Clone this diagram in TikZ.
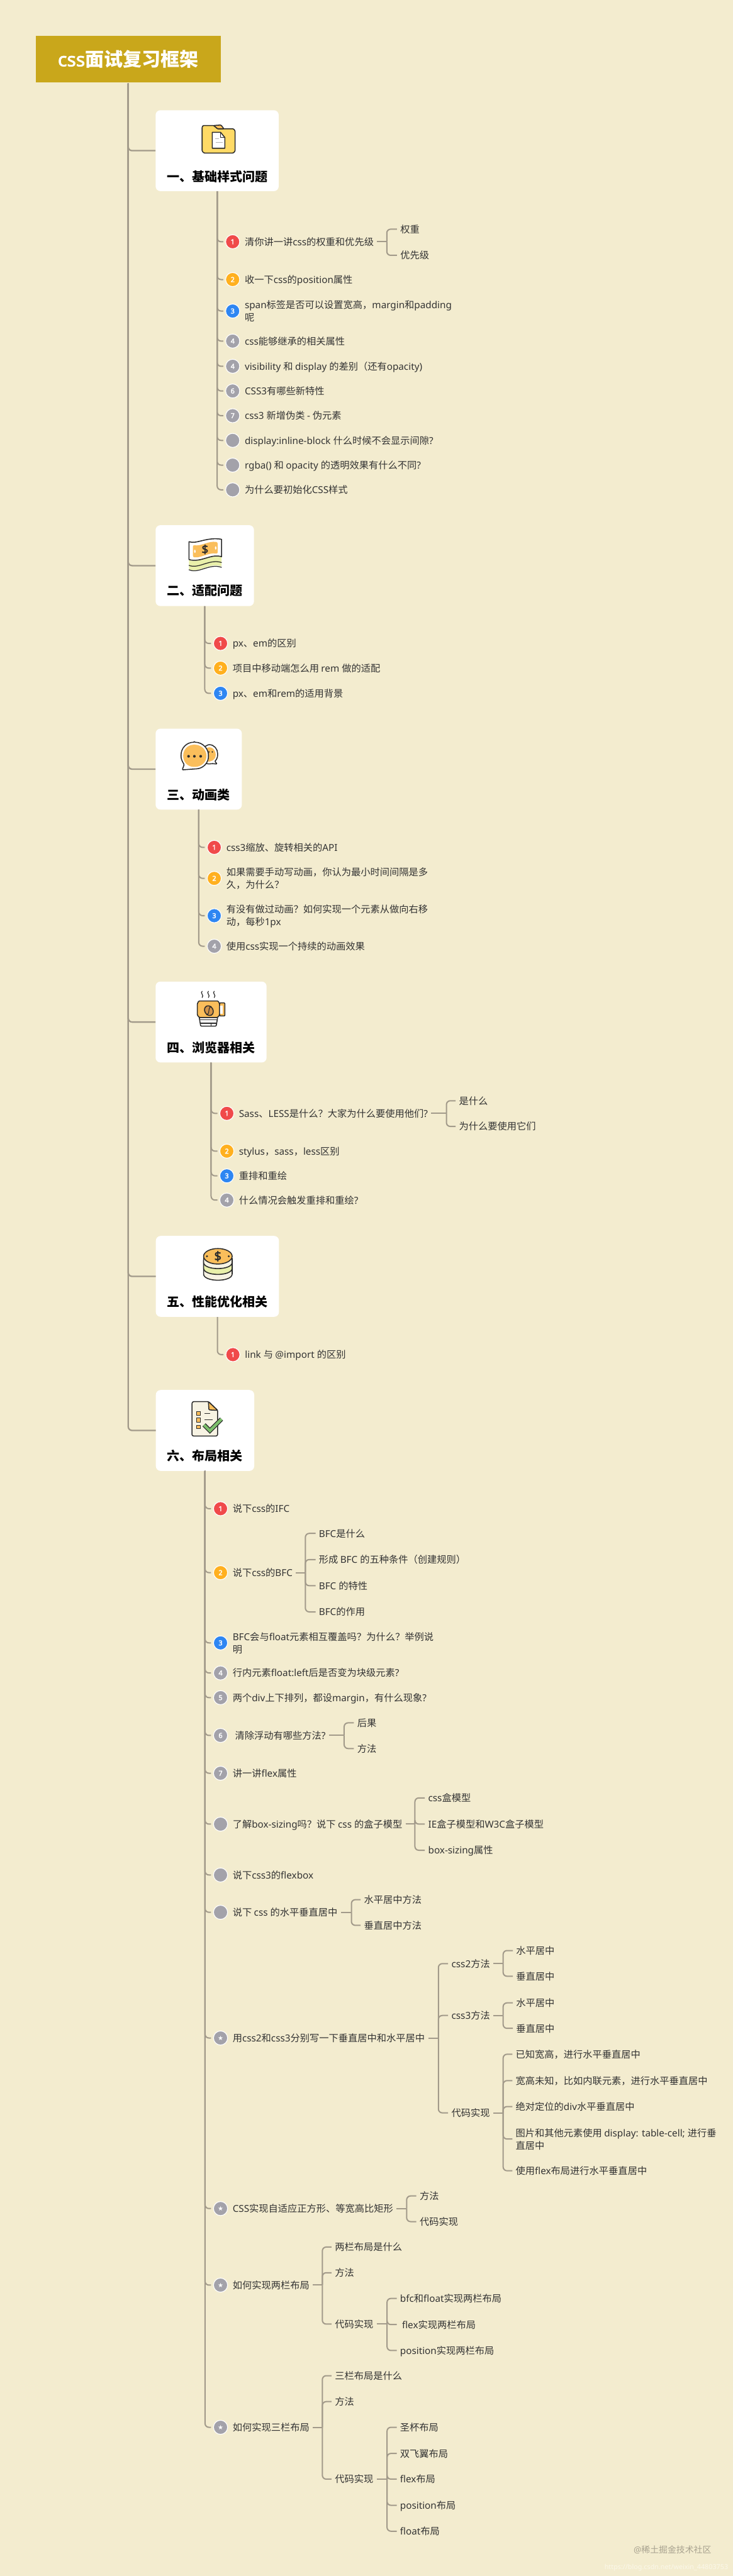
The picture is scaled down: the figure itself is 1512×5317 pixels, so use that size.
\documentclass[tikz,border=0pt]{standalone}
\usepackage{fontspec}
\setmainfont{Noto Sans}
\newfontfamily\latinfont{Noto Sans}[BoldFont={Noto Sans},BoldFeatures={FakeBold=2.5}]
\newfontfamily\cjkfont{Noto Sans CJK SC}
\newfontfamily\symfont{DejaVu Sans}
% automatic switch between the Latin and the CJK family
\newcount\ccnt
\newcommand{\setrange}[2]{\ccnt=#1 \loop\XeTeXcharclass\ccnt=5 \ifnum\ccnt<#2 \advance\ccnt by 1 \repeat}
\setrange{"3000}{"303F}
\setrange{"4E00}{"9FFF}
\setrange{"FF00}{"FFEF}
\ccnt=32 \loop\XeTeXcharclass\ccnt=0 \ifnum\ccnt<126 \advance\ccnt by 1 \repeat
\XeTeXcharclass"2605=7
\XeTeXinterchartokenstate=1
\XeTeXinterchartoks 0 5 = {\cjkfont}
\XeTeXinterchartoks 5 0 = {\latinfont}
\XeTeXinterchartoks 4095 5 = {\cjkfont}
\XeTeXinterchartoks 4095 0 = {\latinfont}
\definecolor{bgc}{HTML}{F3ECCF}
\definecolor{rootc}{HTML}{C9A71B}
\definecolor{linec}{HTML}{A29A8A}
\definecolor{txtc}{HTML}{333333}
\definecolor{bred}{HTML}{F04A4A}
\definecolor{borange}{HTML}{FFB01F}
\definecolor{bblue}{HTML}{2E86F2}
\definecolor{bgray}{HTML}{A3A2AA}
\definecolor{icl}{HTML}{2B2B2B}
\definecolor{ico}{HTML}{FABE5B}
\definecolor{icy}{HTML}{FFDA66}
\definecolor{icg}{HTML}{E9F0AA}
\definecolor{icp}{HTML}{F7F3E3}
\definecolor{ick}{HTML}{7CBF6B}
\definecolor{wmk}{HTML}{A8A28F}
\definecolor{wmc}{HTML}{FBF8EA}
\tikzset{
  x=1pt,y=-1pt,
  conn/.style={draw=linec,line width=2.6pt,rounded corners=8pt},
  tx/.style={anchor=west,inner sep=0pt,outer xsep=7pt,xshift=-7pt,align=left,text=txtc,
    font=\fontsize{19.8}{26}\selectfont,text height=17.6pt,text depth=2.4pt},
  two/.style={text height=43.6pt},
  badge/.style={circle,minimum size=29pt,inner sep=0pt,outer sep=5pt,draw=white,line width=1.5pt,
    text=white,font=\fontsize{14}{14}\selectfont\bfseries},
  card/.style={rounded corners=10pt,fill=white,minimum height=167pt,inner sep=0pt},
  cardtitle/.style={inner sep=0pt,text=black,font=\fontsize{26}{30}\selectfont\bfseries},
  rootbox/.style={fill=rootc,inner sep=0pt,outer sep=1.5pt,text=white,minimum width=381pt,minimum height=97pt,
    font=\fontsize{39}{44}\selectfont\bfseries},
  ic/.style={draw=icl,line width=2pt,line join=round,rounded corners=1.5pt},
  thin ic/.style={draw=icl,line width=1.6pt,line cap=round},
}
% [style] y, name, trunk x, badge colour, glyph, text, card name
\newcommand{\QQ}[8][]{%
  \node[badge,fill=#5] (b#3) at (#4+32,#2) {#6};
  \node[tx,#1] (#3) at (#4+57,#2) {#7};
  \draw[conn] (#8.south) |- (b#3.west);
}
\newcommand{\fork}[3]{%
  \coordinate (j#1) at (#2,0 |- #1.east);
  \draw[conn] (#1.east) -- (j#1);
  \foreach \kk in {#3}{\draw[conn] (j#1) |- (\kk.west);}
}
\newcommand{\st}{{\symfont\fontsize{13}{13}\selectfont ★}}
\begin{document}
\begin{tikzpicture}
\fill[bgc] (0,0) rectangle (1512,5317);
\useasboundingbox (0,0) rectangle (1512,5317);
% root and cards
\node[rootbox] (root) at (264.5,122) {css面试复习框架};
\node[card,minimum width=254pt] (c1) at (448,311) {};
\node[card,minimum width=203pt] (c2) at (422.5,1167.5) {};
\node[card,minimum width=178pt] (c3) at (410,1587.5) {};
\node[card,minimum width=229pt] (c4) at (435.5,2109.5) {};
\node[card,minimum width=254pt] (c5) at (448.5,2634.5) {};
\node[card,minimum width=203pt] (c6) at (423,2952.5) {};
\node[cardtitle] (t1) at (448,364) {一、基础样式问题};
\node[cardtitle] (t2) at (422.5,1219) {二、适配问题};
\node[cardtitle] (t3) at (410,1640) {三、动画类};
\node[cardtitle] (t4) at (436,2162) {四、浏览器相关};
\node[cardtitle] (t5) at (448.5,2687) {五、性能优化相关};
\node[cardtitle] (t6) at (423,3005) {六、布局相关};
\foreach \cn in {c1,c2,c3,c4,c5,c6}{\draw[conn,line width=3pt] (root.south) |- (\cn.west);}

% ---------- icon 1 : folder
\draw[ic,fill=icy] (419,259) -- (441,259) -- (449,266) -- (482,266) -- (485,270) -- (485,312) -- (481,316) -- (421,316) -- (417,312) -- (417,262) -- cycle;
\draw[ic,fill=ico] (441,259) -- (456,258) -- (462,266) -- (449,266) -- cycle;
\draw[ic,fill=white,rounded corners=0pt] (438,273) -- (455,273) -- (464,284) -- (464,306) -- (438,306) -- cycle;
\draw[icl,line width=1.2pt] (455,273) -- (455,284) -- (464,284);
\draw[gray!60,line width=1.4pt] (444,286) -- (452,286) (445,294) -- (459,294);
% ---------- icon 2 : bank note
\fill[icg] (390,1156) .. controls (410,1164) and (432,1142) .. (457,1150) -- (457,1169) .. controls (432,1160) and (410,1184) .. (390,1175) -- cycle;
\draw[thin ic] (390,1167) .. controls (410,1175) and (432,1153) .. (457,1161);
\draw[thin ic] (390,1176) .. controls (410,1185) and (432,1162) .. (457,1171);
\draw[ic,fill=white,rounded corners=0pt] (390,1118) .. controls (405,1124) and (425,1108) .. (457,1113) -- (457,1149) .. controls (435,1142) and (415,1162) .. (390,1155) -- cycle;
\fill[ico,rounded corners=3pt] (398,1125) .. controls (415,1128) and (430,1116) .. (449,1119) -- (449,1143) .. controls (430,1140) and (415,1152) .. (398,1150) -- cycle;
\fill[white] (402,1138) ellipse (1.6 and 3.4) (445,1131) ellipse (1.6 and 3.4);
\node[inner sep=0pt,text=icl,font=\fontsize{24}{24}\selectfont\bfseries] (dollarA) at (423,1134) {\$};
% ---------- icon 3 : speech bubbles
\draw[ic,fill=white] (430,1537) .. controls (442,1537) and (449,1546) .. (449,1557) .. controls (449,1564) and (446,1569) .. (443,1571) -- (448,1577) -- (437,1576) .. controls (430,1578) and (420,1575) .. (415,1570) -- (415,1545) -- cycle;
\fill[ico] (425,1545) .. controls (434,1538) and (445,1546) .. (445,1558) .. controls (445,1568) and (436,1574) .. (426,1571) -- cycle;
\draw[ic,fill=white] (401,1532) .. controls (419,1532) and (430,1546) .. (430,1560) .. controls (430,1574) and (420,1586) .. (404,1587) -- (376,1589) -- (380,1578) .. controls (376,1572) and (373.5,1566) .. (373.5,1560) .. controls (373.5,1544) and (385,1532) .. (401,1532) -- cycle;
\fill[ico] (401,1537) .. controls (416,1537) and (426,1548) .. (426,1560) .. controls (426,1573) and (416,1583) .. (401,1583) .. controls (386,1583) and (378,1572) .. (378,1560) .. controls (378,1548) and (386,1537) .. (401,1537) -- cycle;
\fill[icl] (389,1561) circle (2.8) (401,1561) circle (2.8) (414,1561) circle (2.8) (431,1552) circle (1.6) (438,1552) circle (1.6);
% ---------- icon 4 : coffee cup
\draw[thin ic] (417,2046) .. controls (412,2050) and (422,2054) .. (417,2059);
\draw[thin ic] (430,2046) .. controls (425,2050) and (435,2054) .. (430,2059);
\draw[thin ic] (442,2046) .. controls (437,2050) and (447,2054) .. (442,2059);
\draw[ic,fill=ico] (453,2070) -- (464,2070) -- (464,2097) -- (453,2097) -- cycle;
\fill[white] (453,2075) rectangle (459,2092);
\draw[ic,fill=white] (411,2100) -- (449,2100) -- (446,2118) -- (414,2118) -- cycle;
\draw[icl,line width=1.6pt] (412,2105) -- (448,2105) (413,2112) -- (447,2112) (436,2112) -- (436,2118);
\draw[ic,fill=ico] (410,2066) -- (450,2066) -- (453,2072) -- (453,2095) -- (449,2100) -- (411,2100) -- (407,2095) -- (407,2072) -- cycle;
\draw[ic,fill=brown!70!ico,rotate around={30:(431,2086)}] (431,2086) ellipse (8.5 and 10.5);
\draw[icl,line width=1.4pt] (436,2077) .. controls (426,2083) and (436,2089) .. (426,2095);
% ---------- icon 5 : coins
\draw[ic,fill=icp] (420,2600) -- (420,2628) .. controls (420,2646.7) and (479,2646.7) .. (479,2628) -- (479,2600) -- cycle;
\draw[ic,fill=icg] (420,2600) -- (420,2616) .. controls (420,2634.7) and (479,2634.7) .. (479,2616) -- (479,2600) -- cycle;
\draw[ic,fill=icp] (420,2596) -- (420,2604) .. controls (420,2622.7) and (479,2622.7) .. (479,2604) -- (479,2596) -- cycle;
\draw[ic,fill=ico] (449.5,2593) ellipse (29.5 and 16);
\fill[icl] (427,2593) circle (2.2) (472,2593) circle (2.2);
\node[inner sep=0pt,text=icl,font=\fontsize{26}{26}\selectfont\bfseries] (dollarB) at (449.5,2593) {\$};
% ---------- icon 6 : check list
\draw[ic,fill=icp] (396,2896) -- (398,2893) -- (430,2893) -- (449,2911) -- (449,2962) -- (447,2964) -- (398,2964) -- (396,2962) -- cycle;
\draw[ic,fill=ico] (430,2893) -- (431,2910) -- (449,2911) -- cycle;
\draw[draw=icl,line width=1.2pt,fill=ico] (405,2913) rectangle (414,2921) (405,2927) rectangle (414,2935) (405,2942) rectangle (414,2949);
\draw[icl,line width=1.6pt] (422,2917) -- (433,2917) (422,2930) -- (439,2930);
\draw[icl,line width=9pt,line join=miter] (421,2941) -- (433,2953) -- (457,2929);
\draw[ick,line width=5.6pt,line join=miter] (421,2941) -- (433,2953) -- (457,2929);

% ---------- section 1
\QQ{499}{a1}{448}{bred}{1}{清你讲一讲css的权重和优先级}{c1}
\QQ{577}{a2}{448}{borange}{2}{收一下css的position属性}{c1}
\QQ[two]{642}{a3}{448}{bblue}{3}{span标签是否可以设置宽高，margin和padding\\呢}{c1}
\QQ{704}{a4}{448}{bgray}{4}{css能够继承的相关属性}{c1}
\QQ{756}{a5}{448}{bgray}{4}{visibility 和 display 的差别（还有opacity)}{c1}
\QQ{807}{a6}{448}{bgray}{6}{CSS3有哪些新特性}{c1}
\QQ{858}{a7}{448}{bgray}{7}{css3 新增伪类 - 伪元素}{c1}
\QQ{909}{a8}{448}{bgray}{}{display:inline-block 什么时候不会显示间隙?}{c1}
\QQ{960}{a9}{448}{bgray}{}{rgba() 和 opacity 的透明效果有什么不同?}{c1}
\QQ{1011}{a10}{448}{bgray}{}{为什么要初始化CSS样式}{c1}
\node[tx] (a1x) at (826,473) {权重};
\node[tx] (a1y) at (826,527) {优先级};
\fork{a1}{798}{a1x,a1y}

% ---------- section 2
\QQ{1328}{d1}{423}{bred}{1}{px、em的区别}{c2}
\QQ{1379}{d2}{423}{borange}{2}{项目中移动端怎么用 rem 做的适配}{c2}
\QQ{1431}{d3}{423}{bblue}{3}{px、em和rem的适用背景}{c2}

% ---------- section 3
\QQ{1749}{e1}{410}{bred}{1}{css3缩放、旋转相关的API}{c3}
\QQ[two]{1813}{e2}{410}{borange}{2}{如果需要手动写动画，你认为最小时间间隔是多\\久，为什么？}{c3}
\QQ[two]{1890}{e3}{410}{bblue}{3}{有没有做过动画？如何实现一个元素从做向右移\\动，每秒1px}{c3}
\QQ{1953}{e4}{410}{bgray}{4}{使用css实现一个持续的动画效果}{c3}

% ---------- section 4
\QQ{2298}{f1}{436}{bred}{1}{Sass、LESS是什么？大家为什么要使用他们?}{c4}
\QQ{2376}{f2}{436}{borange}{2}{stylus，sass，less区别}{c4}
\QQ{2427}{f3}{436}{bblue}{3}{重排和重绘}{c4}
\QQ{2477}{f4}{436}{bgray}{4}{什么情况会触发重排和重绘?}{c4}
\node[tx] (f1x) at (947,2272) {是什么};
\node[tx] (f1y) at (947,2325) {为什么要使用它们};
\fork{f1}{921}{f1x,f1y}

% ---------- section 5
\QQ{2796}{g1}{448.5}{bred}{1}{link 与 @import 的区别}{c5}

% ---------- section 6
\QQ{3114}{h1}{423}{bred}{1}{说下css的IFC}{c6}
\QQ{3246}{h2}{423}{borange}{2}{说下css的BFC}{c6}
\QQ[two]{3391}{h3}{423}{bblue}{3}{BFC会与float元素相互覆盖吗？为什么？举例说\\明}{c6}
\QQ{3453}{h4}{423}{bgray}{4}{行内元素float:left后是否变为块级元素?}{c6}
\QQ{3504}{h5}{423}{bgray}{5}{两个div上下排列，都设margin，有什么现象?}{c6}
\QQ{3582}{h6}{423}{bgray}{6}{\hspace*{5pt}清除浮动有哪些方法?}{c6}
\QQ{3660}{h7}{423}{bgray}{7}{讲一讲flex属性}{c6}
\QQ{3765}{h8}{423}{bgray}{}{了解box-sizing吗？说下 css 的盒子模型}{c6}
\QQ{3870}{h9}{423}{bgray}{}{说下css3的flexbox}{c6}
\QQ{3947}{h10}{423}{bgray}{}{说下 css 的水平垂直居中}{c6}
\QQ{4206.5}{h11}{423}{bgray}{\st}{用css2和css3分别写一下垂直居中和水平居中}{c6}
\QQ{4558.5}{h12}{423}{bgray}{\st}{CSS实现自适应正方形、等宽高比矩形}{c6}
\QQ{4716.5}{h13}{423}{bgray}{\st}{如何实现两栏布局}{c6}
\QQ{5010}{h14}{423}{bgray}{\st}{如何实现三栏布局}{c6}

\node[tx] (h2a) at (658,3165) {BFC是什么};
\node[tx] (h2b) at (658,3219) {形成 BFC 的五种条件（创建规则）};
\node[tx] (h2c) at (658,3273) {BFC 的特性};
\node[tx] (h2d) at (658,3327) {BFC的作用};
\fork{h2}{630}{h2a,h2b,h2c,h2d}

\node[tx] (h6a) at (737,3556) {后果};
\node[tx] (h6b) at (737,3609) {方法};
\fork{h6}{710}{h6a,h6b}

\node[tx] (h8a) at (883.5,3711) {css盒模型};
\node[tx] (h8b) at (883.5,3765) {IE盒子模型和W3C盒子模型};
\node[tx] (h8c) at (883.5,3819) {box-sizing属性};
\fork{h8}{856}{h8a,h8b,h8c}

\node[tx] (h10a) at (751,3921) {水平居中方法};
\node[tx] (h10b) at (751,3974) {垂直居中方法};
\fork{h10}{725}{h10a,h10b}

\node[tx] (h11a) at (931.5,4053) {css2方法};
\node[tx] (h11b) at (931.5,4160) {css3方法};
\node[tx] (h11c) at (931.5,4361) {代码实现};
\fork{h11}{904.5}{h11a,h11b,h11c}

\node[tx] (p1) at (1065,4026) {水平居中};
\node[tx] (p2) at (1065,4079) {垂直居中};
\fork{h11a}{1038}{p1,p2}

\node[tx] (q1) at (1065,4134) {水平居中};
\node[tx] (q2) at (1065,4186.5) {垂直居中};
\fork{h11b}{1038}{q1,q2}

\node[tx] (r1) at (1064,4240) {已知宽高，进行水平垂直居中};
\node[tx] (r2) at (1064,4294.5) {宽高未知，比如内联元素，进行水平垂直居中};
\node[tx] (r3) at (1064,4348) {绝对定位的div水平垂直居中};
\node[tx,two] (r4) at (1064,4415) {图片和其他元素使用 display: table-cell; 进行垂\\直居中};
\node[tx] (r5) at (1064,4480.5) {使用flex布局进行水平垂直居中};
\fork{h11c}{1038}{r1,r2,r3,r4,r5}

\node[tx] (h12a) at (866,4532.5) {方法};
\node[tx] (h12b) at (866,4585.5) {代码实现};
\fork{h12}{839}{h12a,h12b}

\node[tx] (h13a) at (691,4638) {两栏布局是什么};
\node[tx] (h13b) at (691,4691) {方法};
\node[tx] (h13c) at (691,4797) {代码实现};
\fork{h13}{665}{h13a,h13b,h13c}

\node[tx] (s1) at (825.5,4744) {bfc和float实现两栏布局};
\node[tx] (s2) at (825.5,4798) {\hspace*{4pt}flex实现两栏布局};
\node[tx] (s3) at (825.5,4851.5) {position实现两栏布局};
\fork{h13c}{798.5}{s1,s2,s3}

\node[tx] (h14a) at (691,4903.5) {三栏布局是什么};
\node[tx] (h14b) at (691,4957) {方法};
\node[tx] (h14c) at (691,5117) {代码实现};
\fork{h14}{665}{h14a,h14b,h14c}

\node[tx] (u1) at (825.5,5010) {圣杯布局};
\node[tx] (u2) at (825.5,5064) {双飞翼布局};
\node[tx] (u3) at (825.5,5117) {flex布局};
\node[tx] (u4) at (825.5,5171) {position布局};
\node[tx] (u5) at (825.5,5224.5) {float布局};
\fork{h14c}{798.5}{u1,u2,u3,u4,u5}

% watermarks
\node[anchor=west,inner sep=0pt,text=wmk,font=\fontsize{18}{20}\selectfont] (wm1) at (1307,5263) {@稀土掘金技术社区};
\node[anchor=west,inner sep=0pt,text=wmc,font=\fontsize{14}{16}\selectfont] (wm2) at (1247,5300) {https://blog.csdn.net/weixin\_44803753};
\end{tikzpicture}
\end{document}
